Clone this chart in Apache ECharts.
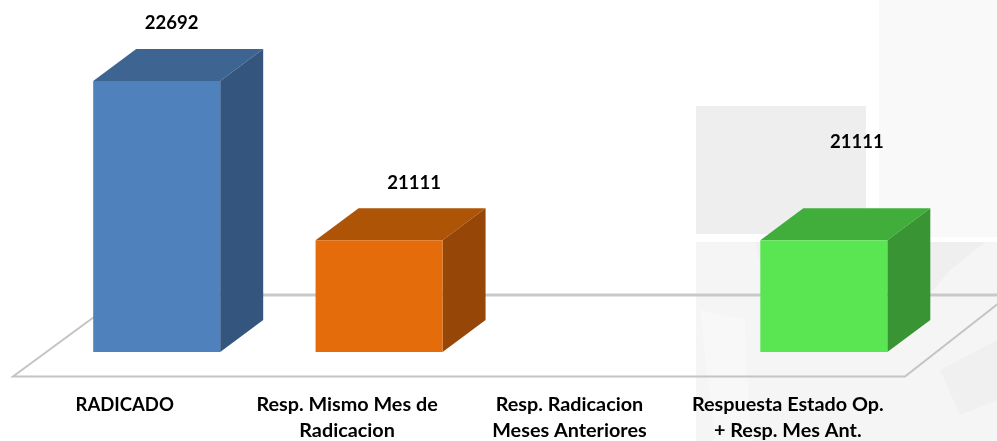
<!DOCTYPE html>
<html>
<head>
<meta charset="utf-8">
<style>
html, body { margin: 0; padding: 0; background: #fff; }
#chart { width: 997px; height: 441px; }
#chart canvas { filter: blur(0.5px); }
</style>
<script src="https://cdn.jsdelivr.net/npm/echarts@6/dist/echarts.min.js"></script>
</head>
<body>
<div id="chart"></div>
<script>
const categories = [
    'RADICADO',
    'Resp. Mismo Mes de\nRadicacion',
    'Resp. Radicacion\nMeses Anteriores',
    'Respuesta Estado Op.\n+ Resp. Mes Ant.',
];
const values = [22692, 21111, null, 21111];

const faceColors = [
    {front: '#4f81bd', top: '#3e6492', side: '#33557e'},
    {front: '#e46c0a', top: '#ae5407', side: '#964606'},
    {front: '#e46c0a', top: '#ae5407', side: '#964606'},
    {front: '#5ae652', top: '#41ae3b', side: '#399533'},
];

const depthX = 43;
const depthY = 32;
const barWidth = 127;
// the value labels do not sit in one place above the bars
const labelDx = [15, 35, 0, 33];
const labelDy = [58, 57, 0, 98];
// axis labels sit left of their bars, the last one a bit further
const labelPadRight = [64, 64, 64, 72];
const labelSizes = [18.5, 19.8, 19.8, 19.8];

function renderBar(params, api) {
    const value = api.value(1);
    if (isNaN(value)) {
        return null;
    }
    const i = params.dataIndex;
    const top = api.coord([i, value]);
    const base = api.coord([i, 20000]);
    const x0 = top[0] - barWidth / 2;
    const x1 = top[0] + barWidth / 2;
    const c = faceColors[i];
    return {
        type: 'group',
        children: [
            {
                type: 'polygon',
                shape: {points: [[x0, top[1]], [x0 + depthX, top[1] - depthY], [x1 + depthX, top[1] - depthY], [x1, top[1]]]},
                style: {fill: c.top},
            },
            {
                type: 'polygon',
                shape: {points: [[x1, top[1]], [x1 + depthX, top[1] - depthY], [x1 + depthX, base[1] - depthY], [x1, base[1]]]},
                style: {fill: c.side},
            },
            {
                type: 'rect',
                shape: {x: x0, y: top[1], width: barWidth, height: base[1] - top[1]},
                style: {fill: c.front},
            },
            {
                type: 'text',
                x: top[0] + labelDx[i],
                y: top[1] - labelDy[i],
                style: {
                    text: String(value),
                    fill: '#000',
                    font: 'bold 18.5px Lato',
                    align: 'center',
                    verticalAlign: 'middle',
                },
            },
        ],
    };
}

function panel(x, y, width, height, fill) {
    return {type: 'rect', z: 0, silent: true, shape: {x, y, width, height}, style: {fill}};
}

function streak(points, fill) {
    return {type: 'polygon', z: 0, silent: true, shape: {points}, style: {fill}};
}

const chart = echarts.init(document.getElementById('chart'));
chart.setOption({
    animation: false,
    backgroundColor: '#fff',
    grid: {left: 45.5, width: 889.5, top: 50, height: 302, outerBoundsMode: 'none'},
    xAxis: {
        type: 'category',
        data: categories.map((name, i) => ({
            value: name,
            textStyle: {padding: [0, labelPadRight[i], 0, 0], fontSize: labelSizes[i]},
        })),
        axisLine: {show: false},
        axisTick: {show: false},
        axisLabel: {
            interval: 0,
            hideOverlap: false,
            margin: 40,
            color: '#000',
            fontFamily: 'Lato',
            fontWeight: 'bold',
            lineHeight: 26,
        },
    },
    yAxis: {
        type: 'value',
        min: 20000,
        max: 23000,
        show: false,
        splitLine: {show: false},
    },
    graphic: [
        panel(879, 0, 118, 237, '#f9f9f9'),
        panel(696, 106, 170, 128, '#eeeeee'),
        panel(696, 242, 301, 199, '#f5f5f5'),
        // faint watermark behind the last bar
        streak([[755, 242], [790, 242], [780, 300], [770, 300]], '#f0f0f0'),
        streak([[890, 242], [985, 242], [950, 270], [925, 300], [890, 300]], '#efefef'),
        streak([[700, 310], [745, 320], [750, 441], [715, 441]], '#f8f8f8'),
        streak([[940, 370], [997, 340], [997, 400], [960, 415]], '#f0f0f0'),
        // floor of the 3d plot
        {
            type: 'polyline',
            z: 1,
            silent: true,
            shape: {points: [[124, 295], [1000, 295]]},
            style: {stroke: '#c9c9c9', lineWidth: 3, fill: null},
        },
        {
            type: 'polyline',
            z: 1,
            silent: true,
            shape: {points: [[124, 295], [13, 376.5], [905, 376.5], [1009, 295]]},
            style: {stroke: '#c4c4c4', lineWidth: 2, fill: null},
        },
    ],
    series: [
        {
            type: 'custom',
            z: 5,
            renderItem: renderBar,
            encode: {x: 0, y: 1},
            data: values.map((v, i) => [i, v]),
        },
    ],
});
</script>
</body>
</html>
